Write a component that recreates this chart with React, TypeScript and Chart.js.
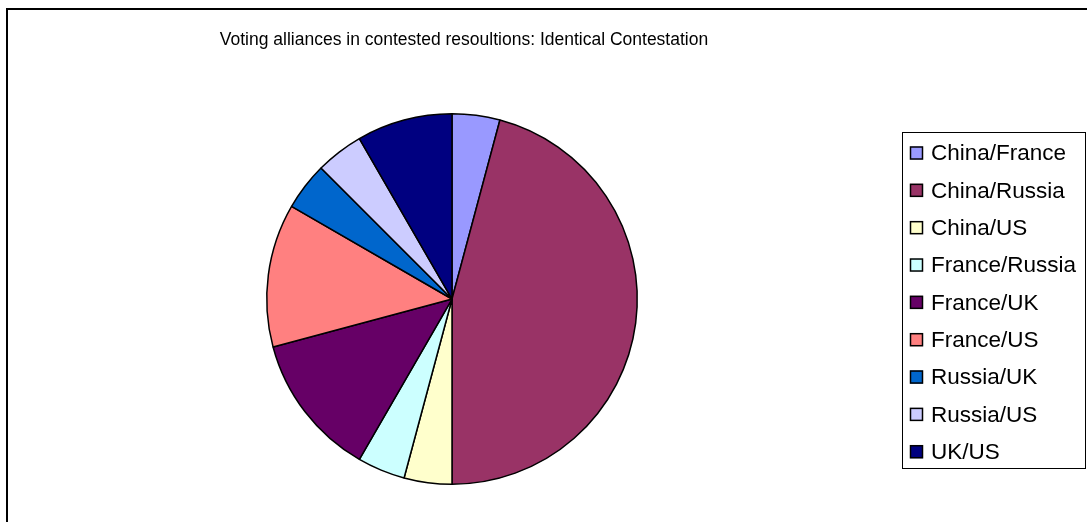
import React, { useEffect, useRef } from "react";
import { Chart, registerables } from "chart.js";

Chart.register(...registerables);

const titleText = "Voting alliances in contested resoultions: Identical Contestation";
const labels = [
  "China/France",
  "China/Russia",
  "China/US",
  "France/Russia",
  "France/UK",
  "France/US",
  "Russia/UK",
  "Russia/US",
  "UK/US",
];
const values = [1, 11, 1, 1, 3, 3, 1, 1, 2];
const colors = [
  "#9999FF",
  "#993366",
  "#FFFFCC",
  "#CCFFFF",
  "#660066",
  "#FF8080",
  "#0066CC",
  "#CCCCFF",
  "#000080",
];

const FONT = "'Liberation Sans', Arial, sans-serif";

const overlayPlugin = {
  id: "overlay",
  afterDraw(chart: any) {
    const ctx = chart.ctx as CanvasRenderingContext2D;
    ctx.save();
    // title
    ctx.fillStyle = "#000";
    ctx.font = `17.5px ${FONT}`;
    ctx.textAlign = "center";
    ctx.textBaseline = "alphabetic";
    ctx.fillText(titleText, 464, 45);

    // legend box
    const bx = 902.5, by = 132.5, bw = 183, bh = 336;
    ctx.strokeStyle = "#000";
    ctx.lineWidth = 1;
    ctx.strokeRect(bx, by, bw, bh);

    const ds = chart.data.datasets[0];
    const labs = chart.data.labels as string[];
    ctx.font = `22.5px ${FONT}`;
    ctx.textAlign = "left";
    ctx.textBaseline = "middle";
    for (let i = 0; i < labs.length; i++) {
      const cy = 153 + 37.34 * i;
      ctx.fillStyle = ds.backgroundColor[i];
      ctx.fillRect(910, cy - 6.5, 13, 13);
      ctx.lineWidth = 1.5;
      ctx.strokeStyle = "#000";
      ctx.strokeRect(910.5, cy - 6, 12, 12);
      ctx.fillStyle = "#000";
      ctx.fillText(labs[i], 931, cy + 1);
    }
    ctx.restore();
  },
};

export default function App() {
  const ref = useRef<HTMLCanvasElement>(null);
  useEffect(() => {
    if (!ref.current) return;
    const chart = new Chart(ref.current, {
      type: "pie",
      data: {
        labels,
        datasets: [
          {
            data: values,
            backgroundColor: colors,
            borderColor: "#000",
            borderWidth: 1.5,
          },
        ],
      },
      options: {
        responsive: false,
        animation: false,
        layout: {
          padding: { left: 266, right: 449, top: 113, bottom: 37 },
        },
        plugins: {
          legend: { display: false },
          title: { display: false },
          tooltip: { enabled: false },
        },
      },
      plugins: [overlayPlugin],
    });
    return () => chart.destroy();
  }, []);

  return (
    <div
      style={{
        position: "fixed",
        left: 0,
        top: 0,
        width: 1087,
        height: 522,
        overflow: "hidden",
        background: "#fff",
      }}
    >
      <div
        style={{
          position: "absolute",
          left: 6,
          top: 8,
          width: 1200,
          height: 700,
          borderLeft: "2px solid #000",
          borderTop: "2px solid #000",
        }}
      />
      <canvas
        ref={ref}
        width={1087}
        height={522}
        style={{ position: "absolute", left: 0, top: 0 }}
      />
    </div>
  );
}
